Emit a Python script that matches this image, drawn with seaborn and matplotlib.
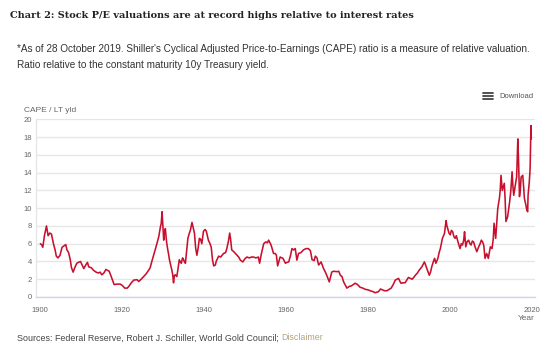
import matplotlib
matplotlib.use("Agg")
import matplotlib.pyplot as plt
from matplotlib.lines import Line2D
import seaborn as sns
import pandas as pd

years = [1900.0, 1900.3, 1900.6, 1901.0, 1901.5, 1901.9, 1902.3, 1902.7, 1903.2, 1903.6,
         1903.9, 1904.3, 1904.8, 1905.3, 1905.9, 1906.2, 1906.5, 1906.9, 1907.3, 1907.6,
         1908.0, 1908.4, 1908.9, 1909.3, 1909.8, 1910.2, 1910.6, 1911.2, 1911.5, 1911.8,
         1912.4, 1913.0, 1913.6, 1914.2, 1914.6, 1915.0, 1915.5, 1916.0, 1916.4, 1916.8,
         1917.3, 1918.0, 1918.7, 1919.5, 1920.0, 1920.6, 1921.2, 1921.6, 1922.2, 1922.8,
         1923.6, 1924.0, 1924.6, 1925.2, 1925.8, 1926.4, 1926.8, 1927.2, 1927.7, 1928.2,
         1928.6, 1928.9, 1929.3, 1929.5, 1929.7, 1929.9, 1930.1, 1930.3, 1930.5, 1930.8,
         1931.1, 1931.3, 1931.5, 1931.8, 1932.1, 1932.3, 1932.5, 1932.7, 1932.9, 1933.3,
         1933.6, 1933.9, 1934.2, 1934.4, 1934.7, 1934.95, 1935.2, 1935.4, 1935.7, 1936.0,
         1936.3, 1936.6, 1937.0, 1937.3, 1937.6, 1937.9, 1938.2, 1938.5, 1938.8, 1939.1,
         1939.4, 1939.8, 1940.2, 1940.5, 1941.0, 1941.4, 1941.7, 1942.0, 1942.3, 1942.7,
         1942.9, 1943.5, 1944.0, 1944.7, 1945.2, 1945.5, 1945.9, 1946.2, 1946.4, 1946.7,
         1947.2, 1947.6, 1948.0, 1948.4, 1948.8, 1949.4, 1949.9, 1950.4, 1951.0, 1951.5,
         1952.0, 1952.6, 1953.2, 1953.5, 1953.9, 1954.5, 1955.0, 1955.4, 1955.7, 1956.3,
         1956.9, 1957.3, 1957.6, 1957.9, 1958.2, 1958.5, 1959.2, 1959.8, 1960.2, 1960.6,
         1961.0, 1961.4, 1961.8, 1962.2, 1962.6, 1963.0, 1963.6, 1964.2, 1964.8, 1965.4,
         1965.9, 1966.3, 1966.8, 1967.1, 1967.5, 1967.9, 1968.5, 1969.1, 1969.5, 1970.0,
         1970.5, 1971.1, 1971.5, 1972.4, 1972.8, 1973.2, 1973.6, 1974.0, 1974.8, 1975.4,
         1975.9, 1976.8, 1977.4, 1978.0, 1978.7, 1979.3, 1980.0, 1980.5, 1981.2, 1981.7,
         1982.5, 1983.0, 1983.5, 1984.0, 1984.6, 1985.1, 1985.6, 1986.1, 1986.6, 1987.0,
         1987.4, 1987.8, 1988.0, 1988.5, 1989.0, 1989.4, 1989.8, 1990.3, 1990.7, 1991.1,
         1991.5, 1992.0, 1992.4, 1993.1, 1993.7, 1994.0, 1994.3, 1994.9, 1995.2, 1995.5,
         1995.9, 1996.2, 1996.5, 1997.0, 1997.3, 1997.6, 1998.1, 1998.6, 1998.8, 1999.0,
         1999.2, 1999.4, 1999.7, 2000.0, 2000.3, 2000.6, 2000.9, 2001.2, 2001.5, 2001.9,
         2002.4, 2002.7, 2003.0, 2003.3, 2003.5, 2003.8, 2004.1, 2004.5, 2004.8, 2005.1,
         2005.4, 2005.7, 2006.1, 2006.5, 2006.9, 2007.3, 2007.6, 2007.9, 2008.2, 2008.5,
         2008.9, 2009.3, 2009.8, 2010.2, 2010.5, 2010.7, 2011.1, 2011.3, 2011.6, 2012.0,
         2012.2, 2012.4, 2012.7, 2013.0, 2013.2, 2013.4, 2013.6, 2014.0, 2014.3, 2014.5,
         2014.8, 2015.1, 2015.3, 2015.5, 2015.9, 2016.2, 2016.3, 2016.5, 2016.7, 2016.9,
         2017.1, 2017.3, 2017.7, 2017.9, 2018.1, 2018.4, 2018.7, 2018.9, 2019.0, 2019.3,
         2019.5, 2019.7, 2019.75]

cape_ratio = [6.0, 5.9, 5.6, 6.9, 8.0, 6.9, 7.2, 7.1, 6.0, 5.3,
              4.6, 4.4, 4.7, 5.6, 5.8, 5.9, 5.3, 5.0, 4.2, 3.3,
              2.8, 3.3, 3.8, 3.9, 4.0, 3.6, 3.2, 3.7, 3.9, 3.4,
              3.3, 3.0, 2.8, 2.7, 2.8, 2.5, 2.7, 3.1, 3.0, 2.9,
              2.3, 1.4, 1.45, 1.45, 1.3, 1.0, 1.0, 1.2, 1.6, 1.9,
              1.95, 1.75, 2.0, 2.3, 2.6, 3.0, 3.3, 4.0, 4.8, 5.6,
              6.3, 6.8, 7.9, 8.3, 9.6, 8.0, 6.4, 7.3, 7.7, 6.2,
              5.3, 4.8, 4.2, 3.6, 3.0, 2.5, 1.6, 2.4, 2.5, 2.3,
              3.2, 4.2, 3.9, 3.8, 4.4, 4.2, 3.9, 3.8, 5.2, 6.6,
              7.1, 7.5, 8.4, 7.8, 7.2, 5.5, 4.7, 5.5, 6.6, 6.5,
              6.0, 7.4, 7.6, 7.4, 6.4, 6.0, 5.6, 4.2, 3.5, 3.6,
              4.0, 4.6, 4.5, 4.9, 5.0, 5.45, 6.3, 7.2, 6.6, 5.3,
              5.1, 4.9, 4.7, 4.5, 4.15, 3.95, 4.3, 4.5, 4.4, 4.5,
              4.5, 4.4, 4.5, 3.8, 4.8, 6.0, 6.2, 6.1, 6.4, 5.85,
              4.9, 4.9, 4.7, 3.5, 4.0, 4.5, 4.35, 3.8, 3.9, 3.95,
              4.6, 5.45, 5.3, 5.45, 4.15, 4.9, 5.0, 5.3, 5.45, 5.45,
              5.2, 4.2, 4.1, 4.6, 4.4, 3.6, 3.95, 3.2, 2.85, 2.3,
              1.7, 2.8, 2.9, 2.85, 2.9, 2.45, 2.3, 1.7, 1.0, 1.2,
              1.25, 1.55, 1.4, 1.1, 1.0, 0.86, 0.8, 0.7, 0.6, 0.48,
              0.6, 0.9, 0.8, 0.7, 0.71, 0.85, 1.0, 1.4, 1.9, 2.0,
              2.1, 1.7, 1.55, 1.6, 1.6, 1.9, 2.2, 2.1, 2.0, 2.2,
              2.45, 2.7, 3.0, 3.4, 3.95, 3.6, 3.2, 2.45, 2.8, 3.4,
              4.0, 4.35, 3.8, 4.35, 5.0, 5.45, 6.6, 7.15, 7.9, 8.6,
              8.0, 7.7, 7.2, 7.0, 7.5, 7.35, 6.8, 6.6, 6.9, 6.2,
              5.45, 6.0, 5.85, 6.4, 7.35, 5.65, 6.2, 6.4, 6.0, 5.85,
              6.3, 6.2, 5.6, 5.1, 5.6, 6.0, 6.4, 6.2, 5.8, 4.35,
              4.9, 4.35, 5.65, 5.45, 6.5, 8.3, 6.6, 8.0, 9.95, 11.1,
              12.0, 13.7, 12.0, 12.5, 12.8, 11.0, 8.5, 9.0, 10.0, 10.7,
              12.0, 14.1, 12.5, 11.45, 12.6, 13.5, 14.8, 17.8, 15.0, 11.3,
              12.0, 13.5, 13.7, 12.5, 11.1, 10.5, 9.8, 9.6, 11.45, 12.95,
              14.5, 19.3, 17.8]

y_ticks = [0, 2, 4, 6, 8, 10, 12, 14, 16, 18, 20]
x_ticks = [1900, 1920, 1940, 1960, 1980, 2000, 2020]

df = pd.DataFrame({"Year": years, "CAPE / LT yld": cape_ratio})

sns.set_style("white")
plt.rcParams["font.family"] = ["Liberation Sans", "DejaVu Sans"]

fig = plt.figure(figsize=(5.5, 3.49), dpi=100)
ax = fig.add_axes([0.0655, 0.149, 0.907, 0.509])

sns.lineplot(data=df, x="Year", y="CAPE / LT yld", ax=ax, color="#c8102e",
             linewidth=1.15, legend=False)

ax.set_xlim(1898.95, 2020.66)
ax.set_ylim(0, 20)
ax.set_yticks(y_ticks)
ax.set_xticks(x_ticks)
ax.set_yticklabels([str(v) for v in y_ticks])
ax.set_xticklabels([str(v) for v in x_ticks])
ax.grid(axis="y", color="#e6e6e6", linewidth=1.0)
ax.grid(axis="x", visible=False)
ax.set_axisbelow(True)
for s in ["top", "right"]:
    ax.spines[s].set_visible(False)
ax.spines["left"].set_color("#e6e6e6")
ax.spines["left"].set_linewidth(1.0)
ax.spines["bottom"].set_color("#ccd6eb")
ax.spines["bottom"].set_linewidth(1.0)
ax.tick_params(axis="y", length=0, pad=3, labelsize=5.5, labelcolor="#666666")
ax.tick_params(axis="x", length=4, width=0.8, color="#ccd6eb", pad=3,
               labelsize=5.5, labelcolor="#666666", direction="out")
ax.set_xlabel("")
ax.set_ylabel("")

fig.text(24 / 550, 1 - 110 / 349, "CAPE / LT yld", fontsize=6, color="#666666",
         va="center", ha="left")
fig.text(535 / 550, 1 - 318 / 349, "Year", fontsize=6, color="#666666",
         va="center", ha="right")

fig.text(10 / 550, 1 - 15 / 349,
         "Chart 2: Stock P/E valuations are at record highs relative to interest rates",
         fontsize=7.0, fontweight="bold", family=["DejaVu Serif"], color="#222222",
         va="center", ha="left")
fig.text(17 / 550, 1 - 49 / 349,
         "*As of 28 October 2019. Shiller's Cyclical Adjusted Price-to-Earnings (CAPE) ratio is a measure of relative valuation.",
         fontsize=7.2, color="#333333", va="center", ha="left")
fig.text(17 / 550, 1 - 65 / 349,
         "Ratio relative to the constant maturity 10y Treasury yield.",
         fontsize=7.2, color="#333333", va="center", ha="left")

# Download control (hamburger icon + text)
for yy in (92.8, 95.8, 98.8):
    fig.add_artist(Line2D([483 / 550, 493 / 550], [1 - yy / 349, 1 - yy / 349],
                          transform=fig.transFigure, color="#444444", linewidth=1.3))
fig.text(499 / 550, 1 - 96 / 349, "Download", fontsize=5.5, color="#555555",
         va="center", ha="left")

src = fig.text(17 / 550, 1 - 338 / 349,
               "Sources: Federal Reserve, Robert J. Schiller, World Gold Council; ",
               fontsize=6.4, color="#444444", va="center", ha="left")
ax.annotate("Disclaimer", xy=(1, 0), xycoords=src, fontsize=6.4, color="#b5a27e",
            va="bottom", ha="left")

fig.savefig("out.png", dpi=100, facecolor="white")
